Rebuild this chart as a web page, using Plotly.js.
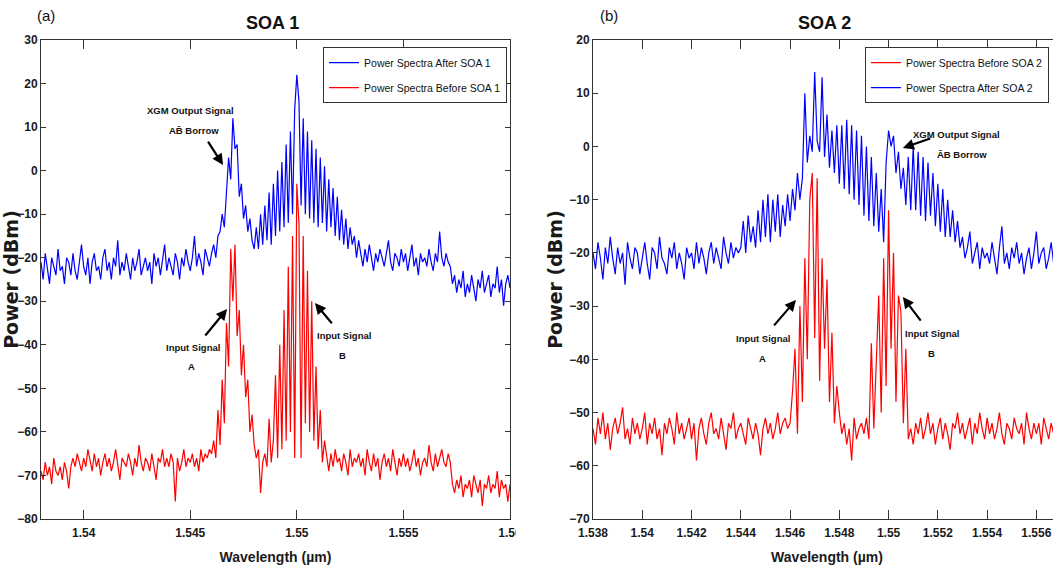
<!DOCTYPE html>
<html>
<head>
<meta charset="utf-8">
<script src="https://cdn.plot.ly/plotly-3.0.1.min.js"></script>
<style>
  html, body { margin: 0; padding: 0; background: #fff; overflow: hidden; }
  #chart { width: 1110px; height: 575px; }
</style>
</head>
<body>
<div id="chart"></div>
<script>
// ---------- DATA ----------
// Wavelength sampling (µm): start and step for every series
const lamStart = 1.538;
const lamStep = 0.0001;

// SOA 1 — power after SOA 1 (dBm), one value per wavelength step from 1.5380 to 1.5600
const soa1After = [
  -21,-25,-19,-23,-26,-20,-22,-24,-18,-23,
  -22,-26,-20,-21,-24,-19,-23,-25,-21,-17,
  -22,-24,-20,-26,-21,-19,-23,-22,-25,-20,
  -18,-23,-21,-25,-20,-22,-16,-24,-21,-23,
  -19,-22,-25,-20,-23,-21,-18,-24,-22,-20,
  -23,-21,-26,-19,-22,-20,-24,-21,-17,-23,
  -20,-22,-24,-19,-21,-25,-20,-22,-18,-21,
  -23,-20,-15,-22,-19,-21,-24,-18,-20,-22,
  -19,-17,-20,-15,-14,-10,-13,-4,3,-2,
  12,5,6,-6,-3,-11,-8,-14,-11,-16,
  -18,-13,-18,-10,-17,-8,-16,-5,-17,-3,
  -15,0,-14,2,-13,6,-12,9,-10,14,
  22,16,-8,12,-10,9,-11,7,-12,5,
  -13,3,-12,1,-14,-2,-13,-4,-15,-6,
  -16,-9,-17,-11,-18,-13,-17,-15,-20,-16,
  -19,-22,-18,-21,-17,-20,-23,-19,-21,-18,
  -20,-22,-19,-16,-21,-23,-19,-20,-22,-18,
  -21,-19,-23,-20,-17,-22,-20,-24,-19,-21,
  -20,-22,-18,-21,-23,-19,-21,-14,-20,-22,
  -19,-21,-22,-26,-24,-28,-25,-27,-23,-29,
  -26,-28,-24,-27,-30,-25,-27,-23,-28,-26,
  -24,-29,-26,-27,-22,-28,-25,-31,-26,-24,
  -27
];

// SOA 1 — power before SOA 1 (dBm)
const soa1Before = [
  -69,-71,-67,-70,-68,-72,-66,-69,-70,-68,
  -71,-67,-69,-73,-68,-66,-68,-65,-67,-69,
  -66,-68,-64,-67,-69,-65,-68,-66,-70,-67,
  -65,-68,-66,-69,-67,-64,-68,-71,-66,-67,
  -68,-65,-67,-70,-66,-68,-63,-67,-69,-66,
  -67,-69,-65,-68,-71,-66,-67,-64,-68,-66,
  -68,-65,-67,-76,-66,-69,-67,-64,-68,-66,
  -67,-65,-68,-66,-69,-64,-67,-65,-66,-64,
  -65,-62,-66,-55,-63,-48,-58,-35,-45,-18,
  -30,-17,-38,-32,-47,-40,-52,-48,-60,-56,
  -63,-66,-64,-74,-67,-65,-68,-57,-67,-62,
  -47,-66,-40,-64,-32,-62,-22,-60,-15,-66,
  -3,-12,-66,-15,-58,-23,-60,-30,-62,-45,
  -64,-55,-67,-62,-66,-69,-65,-68,-64,-67,
  -66,-69,-65,-67,-70,-64,-68,-66,-67,-65,
  -68,-66,-70,-64,-67,-69,-65,-68,-66,-71,
  -67,-65,-68,-66,-69,-64,-67,-70,-66,-68,
  -65,-68,-66,-69,-67,-64,-68,-66,-70,-67,
  -66,-68,-63,-67,-69,-65,-68,-66,-64,-67,
  -68,-65,-67,-72,-74,-71,-73,-70,-75,-72,
  -73,-71,-75,-70,-72,-74,-71,-77,-72,-73,
  -70,-74,-72,-73,-69,-75,-71,-73,-72,-76,
  -72
];

// SOA 2 — power after SOA 2 (dBm), from 1.5380 to 1.5572
const soa2After = [
  -20,-23,-18,-21,-25,-19,-22,-17,-21,-24,
  -19,-22,-20,-26,-18,-21,-23,-19,-20,-24,
  -21,-18,-22,-25,-19,-20,-23,-17,-21,-22,
  -24,-19,-21,-18,-23,-20,-22,-25,-19,-21,
  -20,-23,-18,-22,-19,-21,-24,-20,-18,-22,
  -19,-21,-23,-17,-20,-22,-18,-21,-19,-20,
  -19,-14,-20,-13,-18,-15,-19,-12,-18,-10,
  -17,-9,-18,-10,-16,-9,-17,-11,-15,-9,
  -14,-8,-12,-5,-10,-6,10,-3,2,-1,
  14,1,-1,13,-2,6,-4,3,-5,4,
  -7,4,-8,5,-9,4,-10,3,-11,2,
  -13,0,-14,-2,-15,-5,-16,-8,-18,-3,
  3,0,2,-5,-1,-8,-4,-11,-2,-12,
  0,-12,-1,-13,-2,-14,-3,-13,-5,-15,
  -7,-16,-8,-17,-10,-17,-12,-18,-14,-19,
  -17,-21,-19,-16,-22,-20,-18,-23,-19,-21,
  -20,-22,-18,-21,-24,-19,-15,-22,-20,-23,
  -19,-21,-18,-22,-20,-24,-21,-19,-23,-20,
  -16,-22,-20,-19,-23,-21,-18,-22,-20,-24,
  -19,-21,-22
];

// SOA 2 — power before SOA 2 (dBm)
const soa2Before = [
  -53,-56,-51,-54,-50,-55,-52,-57,-53,-51,
  -54,-52,-49,-55,-53,-56,-51,-54,-52,-55,
  -53,-50,-56,-52,-54,-51,-55,-53,-58,-52,
  -54,-51,-53,-56,-50,-54,-52,-55,-53,-51,
  -55,-52,-59,-53,-51,-54,-56,-52,-50,-54,
  -53,-55,-51,-54,-57,-52,-53,-50,-55,-53,
  -52,-54,-56,-51,-53,-55,-52,-54,-58,-53,
  -51,-54,-52,-55,-53,-50,-54,-52,-51,-53,
  -52,-46,-38,-54,-30,-48,-21,-40,-10,-5,
  -36,-6,-44,-21,-38,-25,-48,-35,-52,-45,
  -50,-54,-52,-56,-53,-59,-51,-55,-53,-52,
  -54,-51,-55,-37,-53,-40,-28,-50,-21,-45,
  -12,-38,-20,-48,-28,-31,-52,-38,-55,-53,
  -56,-52,-54,-51,-55,-53,-50,-54,-52,-56,
  -53,-51,-55,-52,-54,-57,-52,-53,-50,-54,
  -52,-55,-53,-51,-56,-52,-54,-50,-53,-55,
  -51,-54,-52,-55,-53,-50,-54,-56,-52,-53,
  -55,-51,-53,-54,-52,-56,-50,-53,-55,-52,
  -54,-52,-56,-51,-53,-55,-52,-54,-50,-53,
  -55,-52,-54
];

const xTicks1 = [1.54, 1.545, 1.55, 1.555, 1.56];
const xTickText1 = ['1.54', '1.545', '1.55', '1.555', '1.56'];
const xTicks2 = [1.538, 1.54, 1.542, 1.544, 1.546, 1.548, 1.55, 1.552, 1.554, 1.556];
const xTickText2 = ['1.538', '1.54', '1.542', '1.544', '1.546', '1.548', '1.55', '1.552', '1.554', '1.556'];

// ---------- STYLE ----------
const SANS = '"Liberation Sans", Arial, sans-serif';
const WIDE = '"DejaVu Sans", Verdana, sans-serif';
const AX = '#333333';
const BLUE = '#0000ff';
const RED = '#ff0000';

const traces = [
  { type: 'scatter', mode: 'lines', name: 'Power Spectra After SOA 1',
    x0: lamStart, dx: lamStep, y: soa1After, xaxis: 'x', yaxis: 'y',
    line: { color: BLUE, width: 1.2 }, legend: 'legend', legendgroup: 'a1', legendrank: 1 },
  { type: 'scatter', mode: 'lines', name: 'Power Spectra Before SOA 1',
    x0: lamStart, dx: lamStep, y: soa1Before, xaxis: 'x', yaxis: 'y',
    line: { color: RED, width: 1.2 }, legend: 'legend', legendgroup: 'b1', legendrank: 2 },
  { type: 'scatter', mode: 'lines', name: 'Power Spectra After SOA 2',
    x0: lamStart, dx: lamStep, y: soa2After, xaxis: 'x2', yaxis: 'y2',
    line: { color: BLUE, width: 1.2 }, legend: 'legend2', legendgroup: 'a2', legendrank: 2 },
  { type: 'scatter', mode: 'lines', name: 'Power Spectra Before SOA 2',
    x0: lamStart, dx: lamStep, y: soa2Before, xaxis: 'x2', yaxis: 'y2',
    line: { color: RED, width: 1.2 }, legend: 'legend2', legendgroup: 'b2', legendrank: 1 }
];

const tickFont = { family: SANS, size: 12, color: '#1a1a1a', weight: 'bold' };
const xTitleFont = { family: SANS, size: 14, color: '#1a1a1a', weight: 'bold' };
const yTitleFont = { family: WIDE, size: 19, color: '#1a1a1a', weight: 'bold' };

function xAxis(domain, range, vals, text, anchor) {
  return {
    domain: domain, range: range, anchor: anchor,
    tickmode: 'array', tickvals: vals, ticktext: text,
    ticks: 'inside', ticklen: 9, tickwidth: 1, tickcolor: AX,
    showline: true, linecolor: AX, linewidth: 1, mirror: 'allticks',
    showgrid: false, zeroline: false, tickfont: tickFont, ticklabelstandoff: 3,
    title: { text: 'Wavelength (µm)', font: xTitleFont, standoff: 12 }
  };
}
function yAxis(range, anchor) {
  return {
    range: range, anchor: anchor, dtick: 10, tick0: 0,
    ticks: 'inside', ticklen: 5, tickwidth: 1, tickcolor: AX,
    showline: true, linecolor: AX, linewidth: 1, mirror: 'allticks',
    showgrid: false, zeroline: false, tickfont: tickFont,
    title: { text: 'Power (dBm)', font: yTitleFont, standoff: 1 }
  };
}

const annFont = { family: SANS, size: 9.5, color: '#111', weight: 'bold' };
function label(xref, yref, x, y, text) {
  return { xref: xref, yref: yref, x: x, y: y, text: text, showarrow: false,
           font: annFont, align: 'center', xanchor: 'center', yanchor: 'middle' };
}
function arrow(xref, yref, x, y, ax, ay) {
  return { xref: xref, yref: yref, axref: xref, ayref: yref, x: x, y: y, ax: ax, ay: ay,
           text: '', showarrow: true, arrowhead: 2, arrowsize: 1, arrowwidth: 2.2,
           arrowcolor: '#000' };
}

const annotations = [
  { xref: 'paper', yref: 'paper', x: 0.0049, y: 1.052, text: '(a)', showarrow: false,
    font: { family: SANS, size: 15, color: '#111' }, xanchor: 'center', yanchor: 'middle' },
  { xref: 'paper', yref: 'paper', x: 0.5569, y: 1.052, text: '(b)', showarrow: false,
    font: { family: SANS, size: 15, color: '#111' }, xanchor: 'center', yanchor: 'middle' },
  { xref: 'paper', yref: 'paper', x: 0.2265, y: 1.0355, text: 'SOA 1', showarrow: false,
    font: { family: SANS, size: 18, color: '#111', weight: 'bold' }, xanchor: 'center', yanchor: 'middle' },
  { xref: 'paper', yref: 'paper', x: 0.7686, y: 1.0355, text: 'SOA 2', showarrow: false,
    font: { family: SANS, size: 18, color: '#111', weight: 'bold' }, xanchor: 'center', yanchor: 'middle' },

  label('x', 'y', 1.54499, 13.9, 'XGM Output Signal'),
  label('x', 'y', 1.54518, 9.3, 'AB\u0304 Borrow'),
  arrow('x', 'y', 1.54654, 1.3, 1.54579, 7.0),
  label('x', 'y', 1.54513, -40.6, 'Input Signal'),
  label('x', 'y', 1.54508, -45.0, 'A'),
  arrow('x', 'y', 1.54673, -31.8, 1.54565, -38.2),
  label('x', 'y', 1.55221, -37.8, 'Input Signal'),
  label('x', 'y', 1.55216, -42.4, 'B'),
  arrow('x', 'y', 1.55085, -30.4, 1.55170, -35.4),

  label('x2', 'y2', 1.55277, 2.2, 'XGM Output Signal'),
  label('x2', 'y2', 1.55297, -1.6, '\u0100B Borrow'),
  arrow('x2', 'y2', 1.55058, -0.29, 1.55175, 1.59),
  label('x2', 'y2', 1.5449, -36.0, 'Input Signal'),
  label('x2', 'y2', 1.5449, -39.8, 'A'),
  arrow('x2', 'y2', 1.54624, -28.85, 1.54530, -33.9),
  label('x2', 'y2', 1.55175, -35.1, 'Input Signal'),
  label('x2', 'y2', 1.55175, -38.9, 'B'),
  arrow('x2', 'y2', 1.55058, -28.3, 1.55135, -33.0)
];

const legendBase = {
  bgcolor: '#ffffff', bordercolor: AX, borderwidth: 1,
  font: { family: SANS, size: 10.5, color: '#111' },
  tracegroupgap: 6, itemwidth: 30, traceorder: 'grouped'
};

const layout = {
  width: 1110, height: 575,
  margin: { l: 41, r: 49, t: 40, b: 56 },
  paper_bgcolor: '#ffffff', plot_bgcolor: '#ffffff',
  showlegend: true,
  xaxis: xAxis([0, 0.4598], [1.538, 1.56], xTicks1, xTickText1, 'y'),
  yaxis: yAxis([-80, 30], 'x'),
  xaxis2: xAxis([0.5412, 1], [1.538, 1.557], xTicks2, xTickText2, 'y2'),
  yaxis2: yAxis([-70, 20], 'x2'),
  legend: Object.assign({}, legendBase, { x: 0.4569, xanchor: 'right', y: 0.985, yanchor: 'top' }),
  legend2: Object.assign({}, legendBase, { x: 0.8078, xanchor: 'left', y: 0.985, yanchor: 'top' }),
  annotations: annotations,
  shapes: [
    { type: 'rect', xref: 'paper', yref: 'paper', x0: 0.4657, x1: 0.5088, y0: -0.0065, y1: -0.07,
      fillcolor: '#ffffff', line: { width: 0 }, layer: 'above' }
  ]
};

Plotly.newPlot('chart', traces, layout, { displayModeBar: false, staticPlot: true });
</script>
</body>
</html>
